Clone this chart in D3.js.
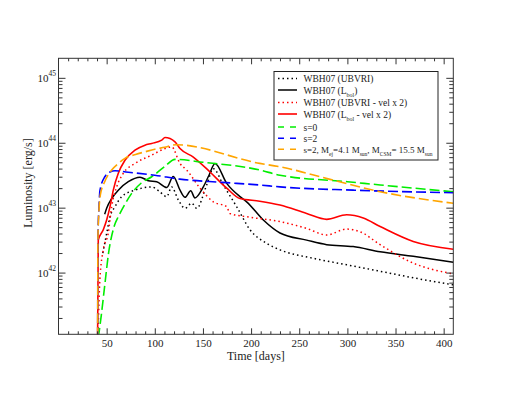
<!DOCTYPE html>
<meta charset="utf-8">
<style>
body { margin: 0; background: #fff; }
svg { font-family: "Liberation Serif", "Times New Roman", serif; }
.frame { fill: none; stroke: #333; stroke-width: 1; }
.axis path { display: none; }
.axis line { stroke: #333; }
.axis text { font-size: 11px; fill: #222; font-family: "Liberation Serif", serif; }
.curve { fill: none; }
</style>
<body>
<script src="https://cdn.jsdelivr.net/npm/d3@7"></script>
<script>

var width = 510,
    height = 395;

var margin = {top: 58.3, right: 56.7, bottom: 60.7, left: 58.5};

// data: [day, log10 L (erg/s)]
var ubvri = [[46, 42.3], [50, 42.6], [53.5, 42.86], [58.7, 43.015], [65.6, 43.17], [79.4, 43.27], [96.8, 43.32],
  [104, 43.26], [112.4, 43.17], [117.5, 43.32], [124.4, 43.12], [131.4, 42.99], [138.3, 43.07], [143.5, 42.99],
  [153.9, 43.35], [160.8, 43.6], [171.1, 43.35], [185, 43.015], [198.9, 42.66], [216.2, 42.45], [230, 42.35],
  [264.6, 42.22], [299.3, 42.12], [334, 42.02], [368.4, 41.92], [410, 41.81]];

var lbol = [[48, 42.9], [50, 42.99], [55.2, 43.14], [62.1, 43.27], [72.5, 43.4], [84.6, 43.47], [93.3, 43.415],
  [102, 43.4], [112.4, 43.31], [119.2, 43.48], [126.2, 43.27], [131.4, 43.16], [137.3, 43.26], [141.7, 43.15],
  [150.4, 43.32], [156.3, 43.5], [162.5, 43.68], [174.7, 43.375], [188.5, 43.17], [195.4, 43.09], [212.7, 42.81],
  [230, 42.61], [257.7, 42.5], [278.5, 42.43], [306, 42.4], [334, 42.32], [368.4, 42.25], [410, 42.16]];

var ubvriVel2 = [[41, 41.0], [43, 41.9], [46.5, 42.35], [51.7, 42.61], [55.2, 43.015], [60.4, 43.32], [67.3, 43.53],
  [79.4, 43.68], [96.8, 43.81], [110.6, 43.91], [117.5, 43.937], [126.2, 43.68], [133.1, 43.58], [147, 43.3],
  [160.8, 43.09], [174.7, 43.015], [178, 42.91], [195.4, 42.86], [230, 42.785], [257.7, 42.68], [278.5, 42.58],
  [299.3, 42.67], [313, 42.63], [334, 42.43], [368.4, 42.146], [410, 41.98]];

var lbolVel2 = [[40.6, 41.0], [41.3, 42.5], [46.5, 42.66], [50, 42.81], [53.5, 43.015], [56.9, 43.27], [62.1, 43.53],
  [69, 43.73], [79.4, 43.886], [89.8, 43.963], [96.8, 43.99], [107.2, 44.04], [110.6, 44.08], [121, 44.014],
  [126.2, 43.91], [140, 43.78], [157.3, 43.55], [174.7, 43.3], [188.5, 43.14], [209, 43.1], [230, 43.04],
  [257.7, 42.91], [278.5, 42.82], [299.3, 42.89], [316.5, 42.84], [334, 42.71], [368.4, 42.48], [410, 42.36]];

var s0 = [[41.4, 41.0], [44.5, 41.35], [48, 41.8], [52, 42.3], [58, 42.72], [62.1, 42.86], [70, 43.08], [76, 43.22],
  [86, 43.38], [96.8, 43.476], [110, 43.63], [121, 43.744], [150, 43.7], [209, 43.58], [230, 43.5], [300, 43.4],
  [334, 43.35], [410, 43.245]];

var s2 = [[40.7, 41.0], [40.9, 42.5], [42, 43.0], [43.1, 43.27], [48.3, 43.48], [53.5, 43.55], [58.7, 43.568],
  [70, 43.55], [100, 43.5], [126, 43.44], [170, 43.39], [209, 43.349], [230, 43.32], [306, 43.27], [410, 43.23]];

var s2csm = [[40.7, 41.0], [40.9, 42.5], [42, 42.95], [43.5, 43.2], [48, 43.4], [55.2, 43.58], [62, 43.68],
  [69, 43.759], [80, 43.82], [89.8, 43.86], [100, 43.9], [110, 43.93], [122, 43.97], [209, 43.682], [230, 43.63],
  [282, 43.436], [334, 43.246], [410, 43.068]];

var xTicks = [50, 100, 150, 200, 250, 300, 350, 400];
var yTicks = [42, 43, 44, 45];

var series = [
  {name: "ubvri", values: ubvri, color: "#000000", dash: "1.5,3", width: 1.5},
  {name: "lbol", values: lbol, color: "#000000", dash: null, width: 1.5},
  {name: "ubvriVel2", values: ubvriVel2, color: "#ff0000", dash: "1.5,3", width: 1.5},
  {name: "lbolVel2", values: lbolVel2, color: "#ff0000", dash: null, width: 1.6},
  {name: "s0", values: s0, color: "#00ee00", dash: "10,4", width: 1.6},
  {name: "s2", values: s2, color: "#0000ff", dash: "10,4", width: 1.6},
  {name: "s2csm", values: s2csm, color: "#ffa500", dash: "10,4", width: 1.6}
];

var svg = d3.select("body").append("svg")
    .attr("width", width)
    .attr("height", height);

var x = d3.scaleLinear()
    .domain([0, 410])
    .range([margin.left, width - margin.right]);

var y = d3.scaleLog()
    .domain([1.12e41, 2e45])
    .range([height - margin.bottom, margin.top]);

svg.append("clipPath").attr("id", "clip")
  .append("rect")
    .attr("x", margin.left)
    .attr("y", margin.top)
    .attr("width", x.range()[1] - x.range()[0])
    .attr("height", y.range()[0] - y.range()[1]);

var line = d3.line()
    .curve(d3.curveMonotoneX)
    .x(function(d) { return x(d[0]); })
    .y(function(d) { return y(Math.pow(10, d[1])); });

svg.append("g")
    .attr("clip-path", "url(#clip)")
  .selectAll("path")
  .data(series)
  .enter().append("path")
    .attr("class", "curve")
    .attr("d", function(d) { return line(d.values); })
    .attr("stroke", function(d) { return d.color; })
    .attr("stroke-width", function(d) { return d.width; })
    .attr("stroke-dasharray", function(d) { return d.dash; });

// ticks (inward, mirrored)
var minorX = d3.range(10, 410, 10).filter(function(d) { return d % 50 !== 0; });
var minorY = [];
d3.range(41, 46).forEach(function(e) {
  d3.range(2, 10).forEach(function(m) {
    var v = m * Math.pow(10, e);
    if (v > y.domain()[0] && v < y.domain()[1]) minorY.push(v);
  });
});
var majorY = yTicks.map(function(e) { return Math.pow(10, e); });

var yb = y.range()[0], yt = y.range()[1];
var xl = x.range()[0], xr = x.range()[1];

svg.append("g").attr("class", "axis")
    .attr("transform", "translate(0," + yb + ")")
    .call(d3.axisBottom(x).tickValues(xTicks).tickSize(-6).tickPadding(5).tickFormat(d3.format("d")));
svg.append("g").attr("class", "axis")
    .attr("transform", "translate(0," + yb + ")")
    .call(d3.axisBottom(x).tickValues(minorX).tickSize(-3).tickFormat(""));
svg.append("g").attr("class", "axis")
    .attr("transform", "translate(0," + yt + ")")
    .call(d3.axisTop(x).tickValues(xTicks).tickSize(-6).tickFormat(""));
svg.append("g").attr("class", "axis")
    .attr("transform", "translate(0," + yt + ")")
    .call(d3.axisTop(x).tickValues(minorX).tickSize(-3).tickFormat(""));

svg.append("g").attr("class", "axis")
    .attr("transform", "translate(" + xl + ",0)")
    .call(d3.axisLeft(y).tickValues(majorY).tickSize(-7).tickFormat(""));
svg.append("g").attr("class", "axis")
    .attr("transform", "translate(" + xl + ",0)")
    .call(d3.axisLeft(y).tickValues(minorY).tickSize(-4).tickFormat(""));
svg.append("g").attr("class", "axis")
    .attr("transform", "translate(" + xr + ",0)")
    .call(d3.axisRight(y).tickValues(majorY).tickSize(-7).tickFormat(""));
svg.append("g").attr("class", "axis")
    .attr("transform", "translate(" + xr + ",0)")
    .call(d3.axisRight(y).tickValues(minorY).tickSize(-4).tickFormat(""));

// y tick labels 10^n
var ylab = svg.append("g").selectAll("text")
  .data(yTicks)
  .enter().append("text")
    .attr("x", xl - 2.5)
    .attr("y", function(d) { return y(Math.pow(10, d)) + 4; })
    .attr("text-anchor", "end")
    .style("font-size", "11px")
    .style("fill", "#222");
ylab.append("tspan").text("10");
ylab.append("tspan").attr("dy", -6).style("font-size", "7.5px").text(function(d) { return d; });

svg.append("rect")
    .attr("class", "frame")
    .attr("x", xl).attr("y", yt)
    .attr("width", xr - xl).attr("height", yb - yt);

// axis titles
svg.append("text")
    .attr("x", (xl + xr) / 2)
    .attr("y", 360)
    .attr("text-anchor", "middle")
    .style("font-size", "12px")
    .style("fill", "#222")
    .text("Time [days]");

svg.append("text")
    .attr("transform", "translate(31.5," + 183 + ") rotate(-90)")
    .attr("text-anchor", "middle")
    .style("font-size", "12px")
    .style("fill", "#222")
    .text("Luminosity [erg/s]");

// legend
var legendRows = [
  {parts: [["WBH07 (UBVRI)"]], y: 78.5},
  {parts: [["WBH07 (L"], ["bol", 1], [")"]], y: 90},
  {parts: [["WBH07 (UBVRI - vel x 2)"]], y: 102.5},
  {parts: [["WBH07 (L"], ["bol", 1], [" - vel x 2)"]], y: 114},
  {parts: [["s=0"]], y: 127},
  {parts: [["s=2"]], y: 138.3},
  {parts: [["s=2, M"], ["ej", 1], ["=4.1 M"], ["sun", 1], [", M"], ["CSM", 1], ["= 15.5 M"], ["sun", 1]], y: 149.3, small: true}
];

var legend = svg.append("g");
legend.append("rect")
    .attr("x", 274).attr("y", 71.5)
    .attr("width", 164).attr("height", 88.5)
    .attr("fill", "#fff")
    .attr("stroke", "#222")
    .attr("stroke-width", 1);

legendRows.forEach(function(r, i) {
  var s = series[i];
  var fs = r.small ? 9 : 9.5,
      sfs = r.small ? 5.5 : 6;
  legend.append("line")
      .attr("x1", 278).attr("x2", 297)
      .attr("y1", r.y).attr("y2", r.y)
      .attr("stroke", s.color)
      .attr("stroke-width", s.width)
      .attr("stroke-dasharray", s.dash ? (s.dash === "10,4" ? "6,6" : s.dash) : null);
  var t = legend.append("text")
      .attr("x", 303.5)
      .attr("y", r.y + 3.5)
      .style("font-size", fs + "px")
      .style("fill", "#222");
  var sub = false;
  r.parts.forEach(function(p) {
    var ts = t.append("tspan").text(p[0]);
    if (p[1] && !sub) { ts.attr("dy", 3).style("font-size", sfs + "px"); sub = true; }
    else if (!p[1] && sub) { ts.attr("dy", -3); sub = false; }
    else if (p[1]) { ts.style("font-size", sfs + "px"); }
  });
});

</script>
</body>
